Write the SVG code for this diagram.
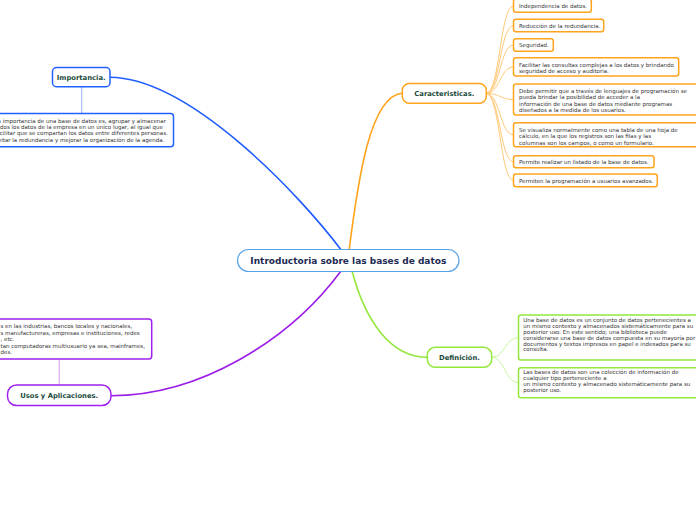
<svg xmlns="http://www.w3.org/2000/svg" width="696" height="520" viewBox="0 0 696 520">
<style>
.bg{fill:#ffffff}
.node{fill:#ffffff}
.main{font-family:"DejaVu Sans",Verdana,sans-serif;font-weight:bold;font-size:6.8px;fill:#1a4a3a}
.center{font-family:"DejaVu Sans",Verdana,sans-serif;font-weight:bold;font-size:9px;fill:#1c2a52}
.small{font-family:"DejaVu Sans",Verdana,sans-serif;font-size:5.5px;fill:#333333}
.c-blue{stroke:#1f5cff;stroke-width:1.6;fill:none}
.c-orange{stroke:#ffa41c;stroke-width:1.6;fill:none}
.c-green{stroke:#94e83c;stroke-width:1.6;fill:none}
.c-purple{stroke:#9b1de8;stroke-width:1.6;fill:none}
.l-blue{stroke:#a9c2ff;stroke-width:1.2;fill:none}
.l-orange{stroke:#ffca78;stroke-width:1;fill:none}
.l-green{stroke:#c9f59c;stroke-width:1;fill:none}
.l-purple{stroke:#dcaaf2;stroke-width:1.2;fill:none}
.b-blue{stroke:#2060ff;stroke-width:1.5}
.b-orange{stroke:#ffa41c;stroke-width:1.5}
.b-green{stroke:#94e83c;stroke-width:1.5}
.b-purple{stroke:#a020f0;stroke-width:1.5}
.b-center{stroke:#5aa4e8;stroke-width:1.2}
</style>
<rect class="bg" x="0" y="0" width="696" height="520"/>
<g id="connectors">
<path class="c-blue" d="M110,77.3 C190,78 300,195 342,251"/>
<path class="c-orange" d="M349,251 C358,180 370,96 402,93.3"/>
<path class="c-green" d="M352,271 C365,320 390,357 427,357.3"/>
<path class="c-purple" d="M341,271 C290,340 200,395.7 111,395.7"/>
<path class="l-blue" d="M81.7,86.7 L81.7,113.5"/>
<path class="l-purple" d="M59.3,359 L59.3,385"/>
<path class="l-orange" d="M486,93.3 C500,93.3 500,6 513.5,6"/>
<path class="l-orange" d="M486,93.3 C500,93.3 500,25.5 513.5,25.5"/>
<path class="l-orange" d="M486,93.3 C500,93.3 500,45 513.5,45"/>
<path class="l-orange" d="M486,93.3 C500,93.3 500,67 513.5,67"/>
<path class="l-orange" d="M486,93.3 C500,93.3 500,99.5 513.5,99.5"/>
<path class="l-orange" d="M486,93.3 C500,93.3 500,134.7 513.5,134.7"/>
<path class="l-orange" d="M486,93.3 C500,93.3 500,161.7 513.5,161.7"/>
<path class="l-orange" d="M486,93.3 C500,93.3 500,180.3 513.5,180.3"/>
<path class="l-green" d="M491.7,357.3 C505,357.3 505,337.5 518.5,337.5"/>
<path class="l-green" d="M491.7,357.3 C505,357.3 505,382.7 518.5,382.7"/>
</g>
<g id="central">
<rect class="node b-center" x="237.5" y="249.5" width="221.5" height="22" rx="11"/>
<text class="center" x="348.3" y="263.9" text-anchor="middle">Introductoria sobre las bases de datos</text>
</g>
<g id="importancia">
<rect class="node b-blue" x="52.5" y="67.5" width="57.5" height="19.2" rx="4"/>
<text class="main" x="81.2" y="79.7" text-anchor="middle">Importancia.</text>
</g>
<g id="importancia-text">
<rect class="node b-blue" x="-20" y="113.5" width="193.5" height="33.2" rx="3"/>
<text class="small" x="-5.5"><tspan x="-5.5" y="123.3">La importancia de una base de datos es, agrupar y almacenar</tspan><tspan x="-5.5" y="129.2">todos los datos de la empresa en un único lugar, al igual que</tspan><tspan x="-5.5" y="135.4">facilitar que se compartan los datos entre diferentes personas.</tspan><tspan x="-5.5" y="141.8">Evitar la redundancia y mejorar la organización de la agenda.</tspan></text>
</g>
<g id="caracteristicas">
<rect class="node b-orange" x="402.3" y="83.5" width="84" height="19.8" rx="7"/>
<text class="main" x="444.3" y="95.8" text-anchor="middle">Caracteristicas.</text>
</g>
<g id="car-1">
<rect class="node b-orange" x="513.5" y="-1" width="77.8" height="13.2" rx="2.5"/>
<text class="small" x="519" y="8">Independencia de datos.</text>
</g>
<g id="car-2">
<rect class="node b-orange" x="513.5" y="19.3" width="90.2" height="12.4" rx="2.5"/>
<text class="small" x="519" y="27.5">Reducción de la redundancia.</text>
</g>
<g id="car-3">
<rect class="node b-orange" x="513.5" y="38.7" width="39.8" height="12.6" rx="2.5"/>
<text class="small" x="519" y="46.8">Seguridad.</text>
</g>
<g id="car-4">
<rect class="node b-orange" x="513.5" y="57.7" width="165.2" height="18.3" rx="2.5"/>
<text class="small"><tspan x="519" y="67">Facilitar las consultas complejas a los datos y brindando</tspan><tspan x="519" y="73.2">seguridad de acceso y auditoria.</tspan></text>
</g>
<g id="car-5">
<rect class="node b-orange" x="513.5" y="84" width="200" height="31" rx="2.5"/>
<text class="small"><tspan x="519" y="93.3">Debe permitir que a través de lenguajes de programación se</tspan><tspan x="519" y="99.3">pueda brindar la posibilidad de acceder a la</tspan><tspan x="519" y="105.5">información de una base de datos mediante programas</tspan><tspan x="519" y="111.5">diseñados a la medida de los usuarios.</tspan></text>
</g>
<g id="car-6">
<rect class="node b-orange" x="513.5" y="122.7" width="200" height="24" rx="2.5"/>
<text class="small"><tspan x="519" y="132">Se visualiza normalmente como una tabla de una hoja de</tspan><tspan x="519" y="138.3">cálculo, en la que los registros son las filas y las</tspan><tspan x="519" y="144.7">columnas son los campos, o como un formulario.</tspan></text>
</g>
<g id="car-7">
<rect class="node b-orange" x="513.5" y="155.7" width="140.5" height="12" rx="2.5"/>
<text class="small" x="519" y="163.5">Permite realizar un listado de la base de datos.</text>
</g>
<g id="car-8">
<rect class="node b-orange" x="513.5" y="174" width="143.8" height="12.7" rx="2.5"/>
<text class="small" x="519" y="182.8">Permiten la programación a usuarios avanzados.</text>
</g>
<g id="definicion">
<rect class="node b-green" x="427.3" y="347.3" width="64.4" height="20" rx="8"/>
<text class="main" x="459.5" y="359.8" text-anchor="middle">Definición.</text>
</g>
<g id="def-1">
<rect class="node b-green" x="518.5" y="315" width="200" height="45" rx="2.5"/>
<text class="small"><tspan x="523.3" y="322">Una base de datos es un conjunto de datos pertenecientes a</tspan><tspan x="523.3" y="328">un mismo contexto y almacenados sistemáticamente para su</tspan><tspan x="523.3" y="334">posterior uso. En este sentido; una biblioteca puede</tspan><tspan x="523.3" y="339.7">considerarse una base de datos compuesta en su mayoría por</tspan><tspan x="523.3" y="345.5">documentos y textos impresos en papel e indexados para su</tspan><tspan x="523.3" y="351.3">consulta.</tspan></text>
</g>
<g id="def-2">
<rect class="node b-green" x="518.5" y="367.7" width="200" height="30" rx="2.5"/>
<text class="small"><tspan x="523.3" y="374.3">Las bases de datos son una colección de información de</tspan><tspan x="523.3" y="380.3">cualquier tipo perteneciente a</tspan><tspan x="523.3" y="386">un mismo contexto y almacenado sistemáticamente para su</tspan><tspan x="523.3" y="392">posterior uso.</tspan></text>
</g>
<g id="usos">
<rect class="node b-purple" x="7.5" y="385" width="103.5" height="20.5" rx="9"/>
<text class="main" x="59.2" y="398.2" text-anchor="middle">Usos y Aplicaciones.</text>
</g>
<g id="usos-text">
<rect class="node b-purple" x="-20" y="319" width="171.7" height="40" rx="3"/>
<text class="small"><tspan x="0.5" y="327.7">s en las industrias, bancos locales y nacionales,</tspan><tspan x="0.5" y="335">s manufactureras, empresas e instituciones, redes</tspan><tspan x="0.5" y="341.3">, etc.</tspan><tspan x="0.5" y="347.7">tan computadoras multiusuario ya sea, mainframes,</tspan><tspan x="0.5" y="354.3">des.</tspan></text>
</g>
</svg>
